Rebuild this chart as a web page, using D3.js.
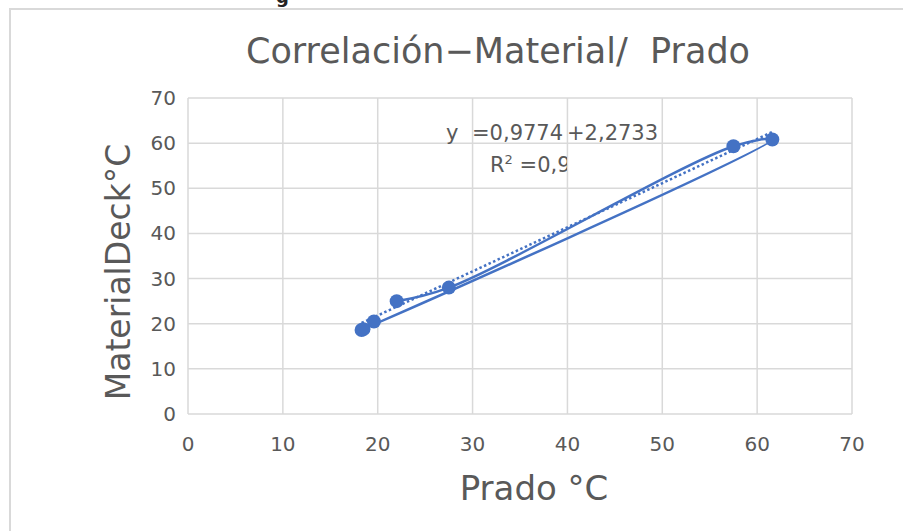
<!DOCTYPE html>
<html>
<head>
<meta charset="utf-8">
<script src="https://cdn.jsdelivr.net/npm/d3@7"></script>
<style>
  body { margin: 0; background: #fff; }
  svg { display: block; font-family: "DejaVu Sans", sans-serif; }
</style>
</head>
<body>
<svg class="chart" width="903" height="531"></svg>
<script>
// points in the order the sheet has them (line drawn in this order)
let pradoVals = [22.0, 27.5, 57.5, 61.6, 18.3, 18.5, 19.6];
let deckVals  = [25.0, 28.0, 59.3, 60.8, 18.6, 18.8, 20.5];
let xTicks = [0, 10, 20, 30, 40, 50, 60, 70];
let yTicks = [0, 10, 20, 30, 40, 50, 60, 70];
let slope = 0.9774, intercept = 2.2733;

window.onload = function() {
  let svg = d3.select('.chart');
  let x = d3.scaleLinear().domain([0, 70]).range([188, 852]);
  let y = d3.scaleLinear().domain([0, 70]).range([414, 98]);
  let blue = '#4472c4', grey = '#595959';

  // outer chart frame
  svg.append('rect').attr('x', 10).attr('y', 9).attr('width', 920).attr('height', 560)
    .attr('fill', 'none').attr('stroke', '#d9d9d9').attr('stroke-width', 2);
  svg.append('text').attr('x', 276).attr('y', 3).text('g')
    .style('font-size', 18).style('font-weight', 'bold').attr('fill', '#222');

  // grid
  svg.selectAll('line.gx').data(xTicks).enter().append('line').attr('class', 'gx')
    .attr('x1', d => x(d)).attr('x2', d => x(d)).attr('y1', y(0)).attr('y2', y(70))
    .attr('stroke', '#d9d9d9').attr('stroke-width', 1.5);
  svg.selectAll('line.gy').data(yTicks).enter().append('line').attr('class', 'gy')
    .attr('y1', d => y(d)).attr('y2', d => y(d)).attr('x1', x(0)).attr('x2', x(70))
    .attr('stroke', '#d9d9d9').attr('stroke-width', 1.5);

  // tick labels
  svg.selectAll('text.xt').data(xTicks).enter().append('text').attr('class', 'xt')
    .attr('x', d => x(d)).attr('y', 451).text(d => d)
    .style('font-size', 20).style('text-anchor', 'middle').attr('fill', grey);
  svg.selectAll('text.yt').data(yTicks).enter().append('text').attr('class', 'yt')
    .attr('x', 176).attr('y', d => y(d) + 7).text(d => d)
    .style('font-size', 20).style('text-anchor', 'end').attr('fill', grey);

  // titles
  svg.append('text').attr('x', 498).attr('y', 63).text('Correlación−Material/  Prado')
    .style('font-size', 35).style('text-anchor', 'middle').style('white-space', 'pre').attr('fill', grey);
  svg.append('text').attr('x', 534).attr('y', 500).text('Prado °C')
    .style('font-size', 34).style('text-anchor', 'middle').attr('fill', grey);
  svg.append('text').attr('transform', 'translate(130,272) rotate(-90)').text('MaterialDeck°C')
    .style('font-size', 33).style('text-anchor', 'middle').attr('fill', grey);

  // trend line
  let xmin = d3.min(pradoVals), xmax = d3.max(pradoVals);
  svg.append('line')
    .attr('x1', x(xmin)).attr('y1', y(slope * xmin + intercept))
    .attr('x2', x(xmax)).attr('y2', y(slope * xmax + intercept))
    .attr('stroke', blue).attr('stroke-width', 2.5).attr('stroke-dasharray', '2.5,2.5');

  // series line
  let pts = pradoVals.map((d, i) => [d, deckVals[i]]);
  let line = d3.line().x(d => x(d[0])).y(d => y(d[1])).curve(d3.curveCatmullRom.alpha(0.5));
  svg.append('path').attr('d', line(pts)).attr('fill', 'none')
    .attr('stroke', blue).attr('stroke-width', 2.5);
  svg.selectAll('circle').data(pts).enter().append('circle')
    .attr('cx', d => x(d[0])).attr('cy', d => y(d[1])).attr('r', 7).attr('fill', blue);

  // equation label (cut off like the sheet shows it)
  svg.append('clipPath').attr('id', 'c1').append('rect')
    .attr('x', 470).attr('y', 110).attr('width', 97).attr('height', 80);
  let eq = svg.append('g').style('font-size', 21).attr('fill', grey);
  eq.append('text').attr('x', 446).attr('y', 140).text('y');
  eq.append('text').attr('x', 472).attr('y', 140).text('=0,9774');
  eq.append('text').attr('x', 567).attr('y', 140).text('+2,2733');
  eq.append('text').attr('x', 490).attr('y', 172).attr('clip-path', 'url(#c1)')
    .html('R<tspan dy="-8" font-size="13">2</tspan><tspan dy="8"> =0,9</tspan>');
};
</script>
</body>
</html>
